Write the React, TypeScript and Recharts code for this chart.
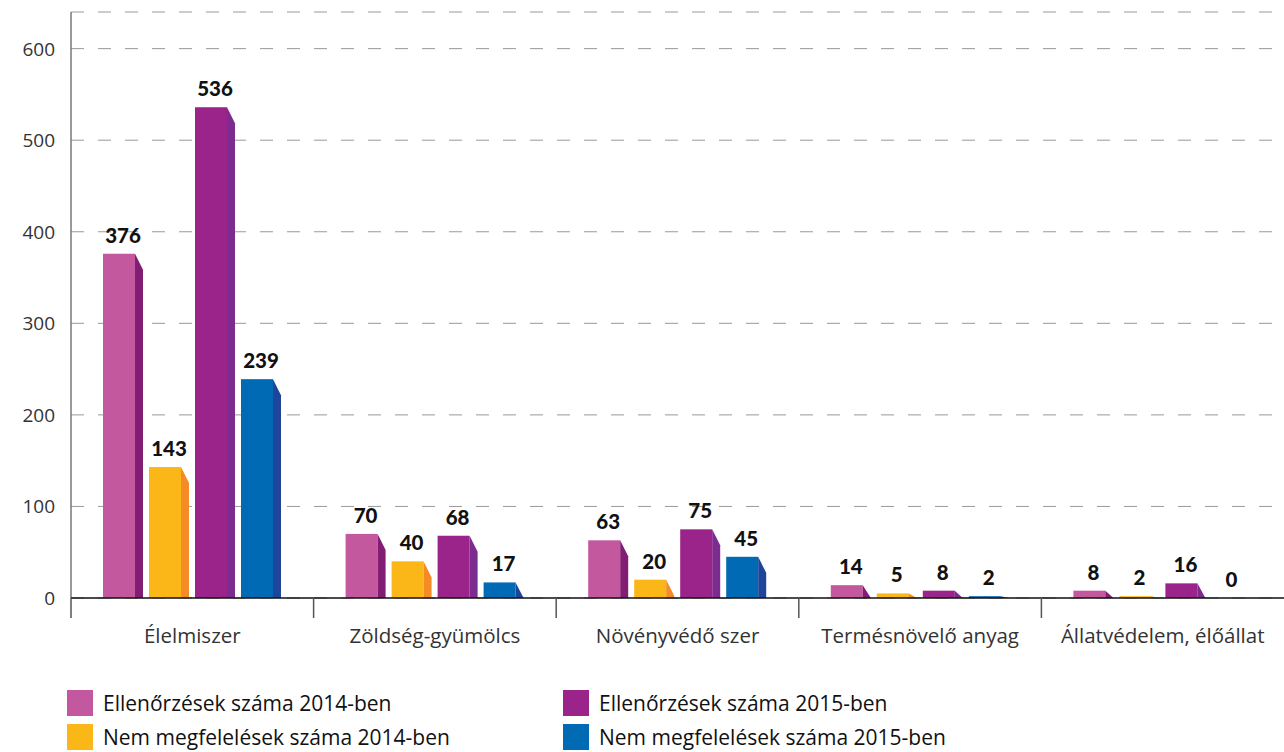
import React from "react";
import { BarChart, Bar, XAxis, YAxis, CartesianGrid, LabelList } from "recharts";

const categories = ["Élelmiszer", "Zöldség-gyümölcs", "Növényvédő szer", "Termésnövelő anyag", "Állatvédelem, élőállat"];
const ell2014 = [376, 70, 63, 14, 8];
const nem2014 = [143, 40, 20, 5, 2];
const ell2015 = [536, 68, 75, 8, 16];
const nem2015 = [239, 17, 45, 2, 0];
const yTicks = [0, 100, 200, 300, 400, 500, 600];

const series = [
  { key: "ell2014", name: "Ellenőrzések száma 2014-ben", color: "#C4589E", side: "#821D74" },
  { key: "nem2014", name: "Nem megfelelések száma 2014-ben", color: "#FBB617", side: "#F58B24" },
  { key: "ell2015", name: "Ellenőrzések száma 2015-ben", color: "#9A2489", side: "#7C2C8F" },
  { key: "nem2015", name: "Nem megfelelések száma 2015-ben", color: "#006AB5", side: "#1E449B" },
];

const data = categories.map((c, i) => ({
  name: c,
  ell2014: ell2014[i],
  nem2014: nem2014[i],
  ell2015: ell2015[i],
  nem2015: nem2015[i],
}));

const W = 1284;
const H = 752;
const xAxisHeight = 30;
const margin = { top: 12, right: 0, bottom: 124, left: 0 };
const yAxisWidth = 71;
const FONT = "'Open Sans', sans-serif";
const BOLD_FONT = "Lato, 'Open Sans', sans-serif";

const make3D = (sideColor: string) => (props: any) => {
  const { x, y, width, height, fill } = props;
  if (!height || height <= 0) return <g />;
  const side = 8;
  const front = width - side;
  const slant = Math.min(16, height);
  const bottom = y + height;
  return (
    <g>
      <rect x={x} y={y} width={front} height={height} fill={fill} />
      <polygon
        points={`${x + front},${y} ${x + width},${y + slant} ${x + width},${bottom} ${x + front},${bottom}`}
        fill={sideColor}
      />
    </g>
  );
};

const ValueLabel = (props: any) => {
  const { x, y, width, value } = props;
  return (
    <text
      x={x + width / 2}
      y={y - 11}
      textAnchor="middle"
      fontFamily={BOLD_FONT}
      fontWeight={900}
      fontSize={20.5}
      fill="#111"
    >
      {value}
    </text>
  );
};

const catWidth = (W - margin.left - margin.right - yAxisWidth) / categories.length;

const CatTick = (props: any) => {
  const { x, y, payload } = props;
  return (
    <g>
      <line x1={x - catWidth / 2} x2={x - catWidth / 2} y1={y} y2={y + 20} stroke="#555" strokeWidth={1.5} />
      <text x={x} y={y + 45} textAnchor="middle" fontFamily={FONT} fontSize={20.5} fill="#333">
        {payload.value}
      </text>
    </g>
  );
};

const YTick = (props: any) => {
  const { x, y, payload } = props;
  return (
    <text x={x - 8} y={y + 7} textAnchor="end" fontFamily={FONT} fontSize={19} fill="#333">
      {payload.value}
    </text>
  );
};

export default function App() {
  return (
    <div style={{ position: "absolute", left: 0, top: 0, width: W, height: H, background: "#fff", overflow: "hidden" }}>
      <BarChart width={W} height={H} data={data} margin={margin} barSize={40} barGap={6}>
        <CartesianGrid vertical={false} stroke="#999" strokeDasharray="13 14" />
        <YAxis
          width={yAxisWidth}
          domain={[0, 640]}
          ticks={yTicks}
          axisLine={{ stroke: "#777", strokeWidth: 1.5 }}
          tickLine={false}
          tick={<YTick />}
          interval={0}
        />
        <XAxis
          dataKey="name"
          height={xAxisHeight}
          axisLine={{ stroke: "#111", strokeWidth: 1.5 }}
          tickLine={false}
          tickSize={0}
          tickMargin={0}
          tick={<CatTick />}
          interval={0}
        />
        {series.map((s) => (
          <Bar key={s.key} dataKey={s.key} name={s.name} fill={s.color} isAnimationActive={false} shape={make3D(s.side)}>
            <LabelList dataKey={s.key} content={<ValueLabel />} />
          </Bar>
        ))}
      </BarChart>
      {series.map((s, i) => (
        <div
          key={s.key}
          style={{
            position: "absolute",
            left: i < 2 ? 67 : 563,
            top: i % 2 === 0 ? 690 : 724,
            display: "flex",
            alignItems: "center",
            fontFamily: FONT,
            fontSize: 21,
            color: "#111",
            whiteSpace: "nowrap",
            lineHeight: "26px",
          }}
        >
          <div style={{ width: 26, height: 26, background: s.color, marginRight: 10 }} />
          <span>{s.name}</span>
        </div>
      ))}
    </div>
  );
}
